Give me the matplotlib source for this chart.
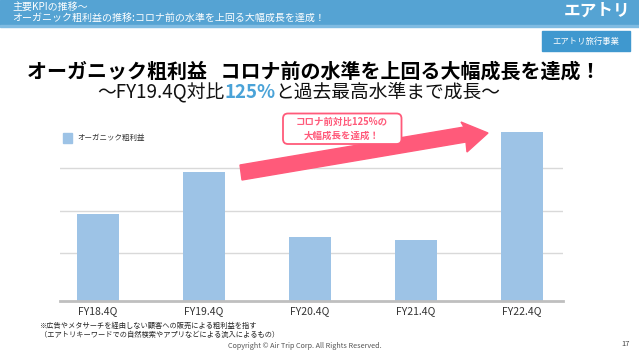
import matplotlib
matplotlib.use("Agg")
import matplotlib.pyplot as plt
from matplotlib.patches import Rectangle, FancyBboxPatch, Polygon
from matplotlib.transforms import Affine2D

plt.rcParams['font.family'] = ['Noto Sans CJK JP', 'DejaVu Sans']

W, H = 639, 356

# data (arbitrary units)
categories = ['FY18.4Q', 'FY19.4Q', 'FY20.4Q', 'FY21.4Q', 'FY22.4Q']
values = [87, 129, 64, 61, 169]
grid_values = [48, 90, 133]

header_line1 = '主要KPIの推移～'
header_line2 = 'オーガニック粗利益の推移:コロナ前の水準を上回る大幅成長を達成！'
title = 'オーガニック粗利益   コロナ前の水準を上回る大幅成長を達成！'
sub_parts = ['～FY19.4Q対比', '125%', 'と過去最高水準まで成長～']
callout = 'コロナ前対比125%の\n大幅成長を達成！'
footnotes = ['※広告やメタサーチを経由しない顧客への販売による粗利益を指す',
             '（エアトリキーワードでの自然検索やアプリなどによる流入によるもの）']

blue_head = '#55a3d3'
bar_color = '#9dc3e6'
pink = '#ff5a7a'

fig = plt.figure(figsize=(W / 100, H / 100), dpi=100)
fig.patch.set_facecolor('white')

# pixel transform, origin at top-left
px = Affine2D().scale(1 / W, -1 / H).translate(0, 1) + fig.transFigure

# header bar
fig.patches.append(Rectangle((0, 0), W, 25, transform=px, color=blue_head, zorder=0))
fig.patches.append(Rectangle((0, 25), W, 2, transform=px, color='#7fbbe2', zorder=0))
fig.text(12, 6.5, header_line1, transform=px, color='white', fontsize=7.2, va='center')
fig.text(12, 18, header_line2, transform=px, color='white', fontsize=7.2, va='center')
fig.text(630, 11, 'エアトリ', transform=px, color='white', fontsize=12,
         fontweight='bold', ha='right', va='center')

# badge
fig.patches.append(Rectangle((542, 31), 88, 19.5, transform=px, color='#3f98cf', zorder=0))
fig.text(586, 41, 'エアトリ旅行事業', transform=px, color='white', fontsize=6,
         ha='center', va='center')

# titles
fig.text(314, 71, title, transform=px, fontsize=14.4, fontweight='bold',
         ha='center', va='center', color='black')

renderer = fig.canvas.get_renderer()
sub_texts = []
for i, part in enumerate(sub_parts):
    t = fig.text(0, 92.5, part, transform=px, fontsize=13.5, va='center',
                 color='#4aa3d8' if i == 1 else '#111111',
                 fontweight='bold' if i == 1 else 'normal')
    sub_texts.append(t)
widths = [t.get_window_extent(renderer).width for t in sub_texts]
x = 299 - sum(widths) / 2
for t, w in zip(sub_texts, widths):
    t.set_x(x)
    x += w

# chart
ax = fig.add_axes([60 / W, (H - 301) / H, (563 - 60) / W, (301 - 120) / H])
xs = range(len(categories))
ax.bar(xs, values, width=0.396, color=bar_color, zorder=2,
       label='オーガニック粗利益')
ax.set_xlim(-0.358, 4.387)
ax.set_ylim(0, 181)
ax.set_yticks(grid_values)
ax.yaxis.grid(True, color='#d9d9d9', linewidth=1)
ax.set_axisbelow(True)
ax.tick_params(axis='y', left=False, labelleft=False)
ax.set_xticks(list(xs))
ax.set_xticklabels(categories, fontsize=7.5, color='#333333')
ax.tick_params(axis='x', length=0, pad=4)
for s in ['top', 'right', 'left']:
    ax.spines[s].set_visible(False)
ax.spines['bottom'].set_color('#bfbfbf')
ax.spines['bottom'].set_linewidth(2)
ax.patch.set_alpha(0)

# legend
fig.patches.append(Rectangle((62.7, 133), 9.3, 10, transform=px, color=bar_color))
fig.text(77, 138, 'オーガニック粗利益', transform=px, fontsize=5.4, color='#333333',
         va='center')

# arrow
arrow = Polygon([(240, 165), (464, 127), (461, 122), (488, 133), (467, 152),
                 (466, 142), (242, 180)], closed=True, transform=px,
                color=pink, zorder=5)
fig.patches.append(arrow)

# callout box
box = FancyBboxPatch((283, 113.5), 118.5, 30.5, boxstyle='round,pad=0,rounding_size=5',
                     transform=px, facecolor='white', edgecolor=pink, linewidth=1.3,
                     zorder=6)
fig.patches.append(box)
fig.text(342, 128.8, callout, transform=px, fontsize=6.8, fontweight='bold',
         color=pink, ha='center', va='center', linespacing=1.5, zorder=7)

# footnotes
fig.text(40, 326, footnotes[0], transform=px, fontsize=5.2, color='#222222', va='center')
fig.text(40, 335, footnotes[1], transform=px, fontsize=5.2, color='#222222', va='center')
fig.text(305, 346, 'Copyright © Air Trip Corp. All Rights Reserved.', transform=px,
         fontsize=5.2, color='#555555', ha='center', va='center')
fig.text(630, 344, '17', transform=px, fontsize=5.5, color='#444444', ha='right',
         va='center')

fig.savefig('out.png', dpi=100)
